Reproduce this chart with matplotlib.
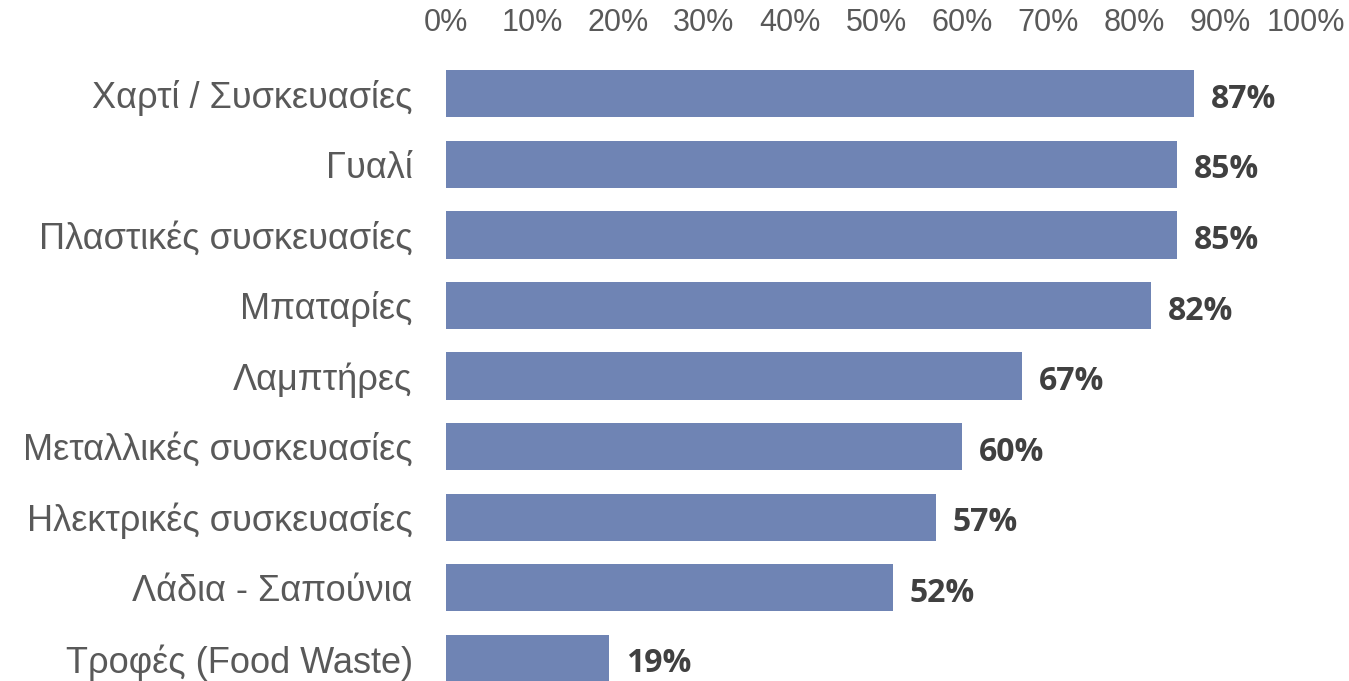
import matplotlib.pyplot as plt
from matplotlib.ticker import PercentFormatter

categories = ["Χαρτί / Συσκευασίες", "Γυαλί", "Πλαστικές συσκευασίες", "Μπαταρίες",
              "Λαμπτήρες", "Μεταλλικές συσκευασίες", "Ηλεκτρικές συσκευασίες",
              "Λάδια - Σαπούνια", "Τροφές (Food Waste)"]
values = [87, 85, 85, 82, 67, 60, 57, 52, 19]
x_ticks = [0, 10, 20, 30, 40, 50, 60, 70, 80, 90, 100]

fig = plt.figure(figsize=(13.49, 6.81), dpi=100)
# axes placed in figure pixels: x 446..1306, y 45..681
ax = fig.add_axes([446 / 1349, 0, (1306 - 446) / 1349, (681 - 45) / 681])

pos = list(range(len(categories)))
ax.barh(pos, values, height=0.67, color="#6F84B4")

for p, v in zip(pos, values):
    ax.annotate(f"{v}%", (v, p), xytext=(12, -4), textcoords="offset points",
                ha="left", va="center", fontsize=23, fontweight="bold",
                family="Open Sans", color="#404040")

ax.set_xlim(0, 100)
ax.set_ylim(8.32, -0.69)
ax.set_xticks(x_ticks)
ax.xaxis.set_major_formatter(PercentFormatter(decimals=0))
ax.xaxis.tick_top()
ax.set_yticks(pos)
ax.set_yticklabels(categories)
ax.tick_params(axis="x", length=0, pad=5, labelsize=22, labelcolor="#595959")
ax.tick_params(axis="y", length=0, pad=24, labelsize=26, labelcolor="#595959")
for lab in ax.get_xticklabels() + ax.get_yticklabels():
    lab.set_family("Liberation Sans")
for s in ax.spines.values():
    s.set_visible(False)

fig.savefig("out.png", dpi=100)
